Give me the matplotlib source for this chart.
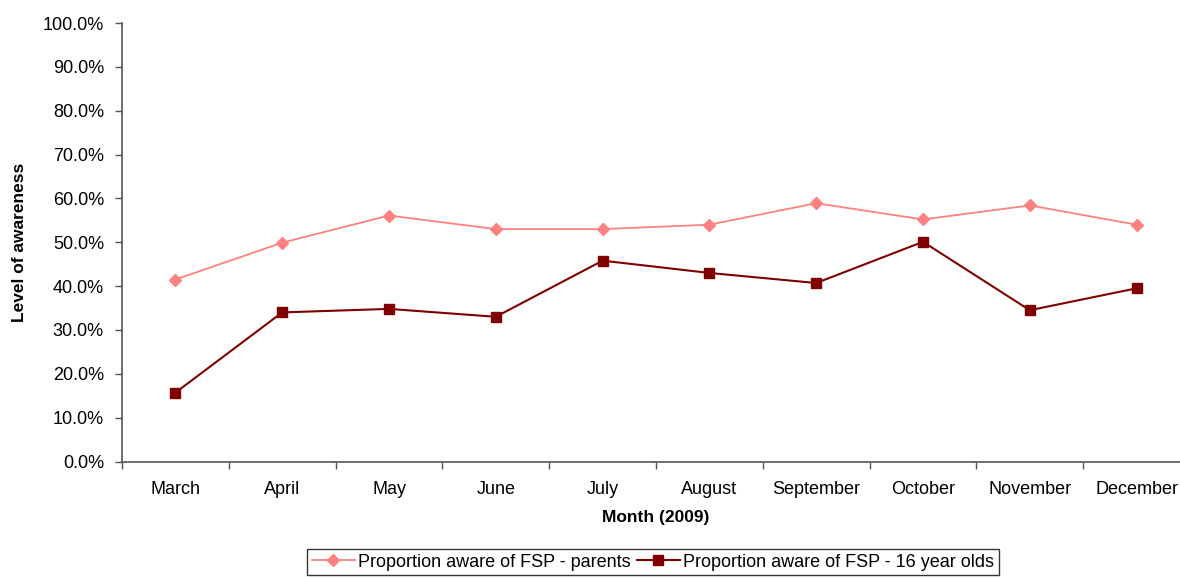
import matplotlib
matplotlib.use("Agg")
import matplotlib.pyplot as plt
import numpy as np
from matplotlib.ticker import PercentFormatter, FixedLocator

plt.rcParams['font.family'] = ['Liberation Sans', 'DejaVu Sans']

# Data
months = ['March', 'April', 'May', 'June', 'July', 'August',
          'September', 'October', 'November', 'December']
parents = [41.5, 49.9, 56.1, 53.0, 53.0, 54.0, 58.9, 55.2, 58.4, 54.0]
sixteen = [15.7, 34.0, 34.8, 33.0, 45.8, 43.0, 40.7, 50.1, 34.5, 39.5]

x = np.arange(len(months))

fig = plt.figure(figsize=(11.8, 5.78), dpi=100)
ax = fig.add_axes([122/1180, 1 - 461.5/578, (1190 - 122)/1180, (461.5 - 23)/578])

ax.plot(x, parents, color='#FF8080', lw=1.3, marker='D', ms=6,
        label='Proportion aware of FSP - parents')
ax.plot(x, sixteen, color='#800000', lw=1.5, marker='s', ms=7,
        label='Proportion aware of FSP - 16 year olds')

ax.set_xlim(-0.5, len(months) - 0.5)
ax.set_ylim(0, 100)
ax.set_yticks(np.arange(0, 101, 10))
ax.yaxis.set_major_formatter(PercentFormatter(decimals=1))

ax.set_xticks(x)
ax.set_xticklabels(months)
ax.xaxis.set_minor_locator(FixedLocator(np.arange(-0.5, len(months), 1)))
ax.tick_params(axis='x', which='major', length=0, pad=14, labelsize=13)
ax.tick_params(axis='x', which='minor', length=5, width=1, color='#555555')
ax.tick_params(axis='y', length=5, width=1, color='#555555', pad=8, labelsize=13)

for s in ['top', 'right']:
    ax.spines[s].set_visible(False)
for s in ['left', 'bottom']:
    ax.spines[s].set_color('#555555')
    ax.spines[s].set_linewidth(1.2)

ax.set_xlabel('Month (2009)', fontsize=12.5, fontweight='bold', labelpad=9)
ax.set_ylabel('Level of awareness', fontsize=12.5, fontweight='bold', labelpad=11)

fig.legend(loc='upper center', bbox_to_anchor=(653/1180, 1 - 549/578), ncol=2,
           frameon=True, fancybox=False, edgecolor='black', fontsize=13,
           borderaxespad=0, handlelength=2.4, columnspacing=0.3, handletextpad=0.2,
           borderpad=0.25)

fig.savefig('out.png', dpi=100)
